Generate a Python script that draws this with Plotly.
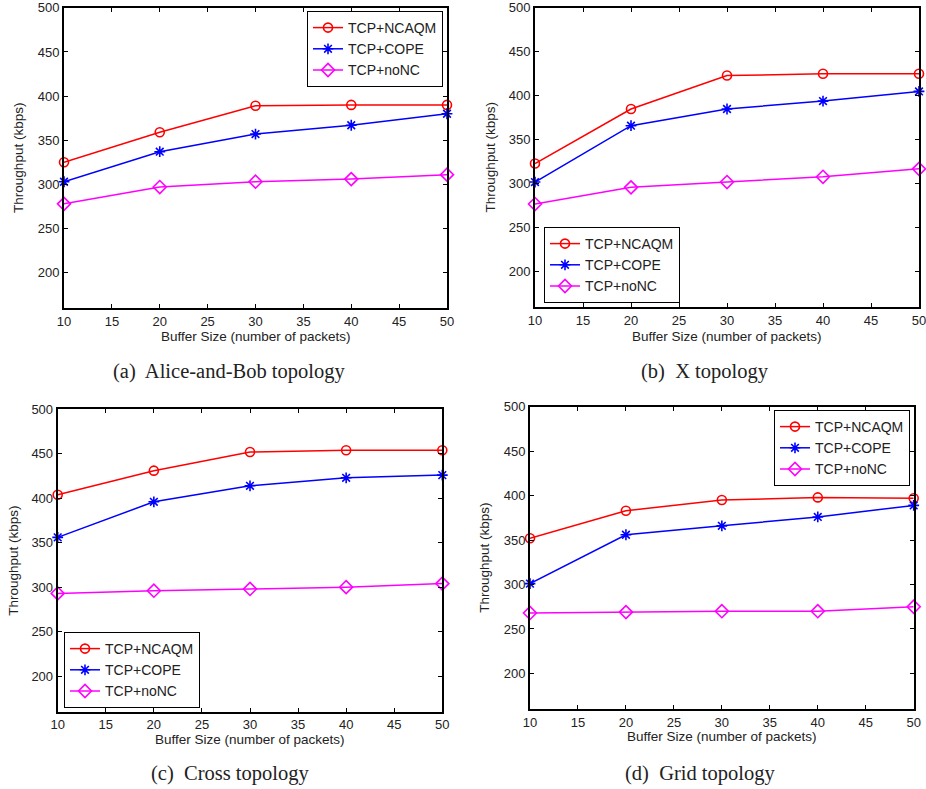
import plotly.graph_objects as go

W, H = 926, 789

buffer_sizes = [10, 20, 30, 40, 50]
series_names = ["TCP+NCAQM", "TCP+COPE", "TCP+noNC"]

# (a) Alice-and-Bob topology
a_ncaqm = [325, 359, 389, 390, 390]
a_cope = [303, 337, 357, 367, 380]
a_nonc = [278, 297, 303, 306, 311]
# (b) X topology
b_ncaqm = [323, 385, 423, 425, 425]
b_cope = [302, 366, 385, 394, 405]
b_nonc = [277, 296, 302, 308, 317]
# (c) Cross topology
c_ncaqm = [404, 431, 452, 454, 454]
c_cope = [356, 396, 414, 423, 426]
c_nonc = [293, 296, 298, 300, 304]
# (d) Grid topology
d_ncaqm = [352, 383, 395, 398, 397]
d_cope = [301, 356, 366, 376, 389]
d_nonc = [268, 269, 270, 270, 275]

captions = ["(a)  Alice-and-Bob topology", "(b)  X topology",
            "(c)  Cross topology", "(d)  Grid topology"]
x_title = "Buffer Size (number of packets)"
y_title = "Throughput (kbps)"
y_ticks = [200, 250, 300, 350, 400, 450, 500]
x_ticks = [10, 15, 20, 25, 30, 35, 40, 45, 50]

panels = [
    (a_ncaqm, a_cope, a_nonc),
    (b_ncaqm, b_cope, b_nonc),
    (c_ncaqm, c_cope, c_nonc),
    (d_ncaqm, d_cope, d_nonc),
]

# pixel boxes of axes: (left, right, top, bottom)
boxes = [
    (64, 447, 7.8, 308),
    (535, 919, 7.8, 307),
    (57.7, 442.3, 409.3, 711.7),
    (530, 913.7, 406.7, 709),
]
ytitle_x = [19, 490, 13.3, 485]
xtitle_y = [336.7, 336.7, 739, 736]
caption_pos = [(229, 371.7), (705, 371.7), (229.5, 773), (699.5, 773)]
legend_pos = [  # (x px, y px, xanchor)
    (443, 11, "right"),
    (544, 227, "left"),
    (64, 632, "left"),
    (910, 410, "right"),
]

colors = ["#ff0000", "#0000ff", "#ff00ff"]
symbols = ["circle-open", "asterisk-open", "diamond-open"]
msizes = [9, 9, 10]

fig = go.Figure()
sans = "Liberation Sans, Arial, Helvetica, sans-serif"
serif = "Liberation Serif, Times New Roman, serif"

for i, (vals, box) in enumerate(zip(panels, boxes)):
    xa = "x" if i == 0 else f"x{i+1}"
    ya = "y" if i == 0 else f"y{i+1}"
    lg = "legend" if i == 0 else f"legend{i+1}"
    for j, v in enumerate(vals):
        fig.add_trace(go.Scatter(
            x=buffer_sizes, y=v, name=series_names[j], mode="lines+markers",
            line=dict(color=colors[j], width=1.5),
            marker=dict(symbol=symbols[j], size=msizes[j],
                        color=colors[j], line=dict(width=1.6, color=colors[j])),
            xaxis=xa, yaxis=ya, legend=lg, cliponaxis=False,
        ))
    l, r, t, b = box
    axcommon = dict(showgrid=False, zeroline=False, showline=True,
                    linecolor="black", linewidth=2, mirror="ticks",
                    ticks="inside", ticklen=4, tickwidth=1, tickcolor="black",
                    automargin=False, ticklabeloverflow="allow",
                    tickfont=dict(family=sans, size=13, color="#222"))
    xkey = "xaxis" if i == 0 else f"xaxis{i+1}"
    ykey = "yaxis" if i == 0 else f"yaxis{i+1}"
    fig.layout[xkey] = dict(domain=[l / W, r / W], range=[10, 50],
                            tickvals=x_ticks, anchor=ya, **axcommon)
    fig.layout[ykey] = dict(domain=[1 - b / H, 1 - t / H], range=[160, 500],
                            tickvals=y_ticks, anchor=xa, **axcommon)
    lx, ly, xan = legend_pos[i]
    fig.layout[lg] = dict(x=lx / W, y=1 - ly / H, xanchor=xan, yanchor="top",
                          xref="paper", yref="paper",
                          bgcolor="white", bordercolor="black", borderwidth=1,
                          font=dict(family=sans, size=14, color="#222"),
                          tracegroupgap=0, itemwidth=30)
    fig.add_annotation(x=(l + r) / 2 / W, y=1 - xtitle_y[i] / H, xref="paper",
                       yref="paper", text=x_title, showarrow=False,
                       font=dict(family=sans, size=13.5, color="#222"),
                       xanchor="center", yanchor="middle")
    fig.add_annotation(x=ytitle_x[i] / W, y=1 - (t + b) / 2 / H, xref="paper",
                       yref="paper", text=y_title, showarrow=False, textangle=-90,
                       font=dict(family=sans, size=13.5, color="#222"),
                       xanchor="center", yanchor="middle")
    cx, cy = caption_pos[i]
    fig.add_annotation(x=cx / W, y=1 - cy / H, xref="paper", yref="paper",
                       text=captions[i], showarrow=False,
                       font=dict(family=serif, size=20.5, color="#222"),
                       xanchor="center", yanchor="middle")

fig.update_layout(width=W, height=H, margin=dict(l=0, r=0, t=0, b=0),
                  paper_bgcolor="white", plot_bgcolor="white", showlegend=True)

fig.write_html("out.html")
